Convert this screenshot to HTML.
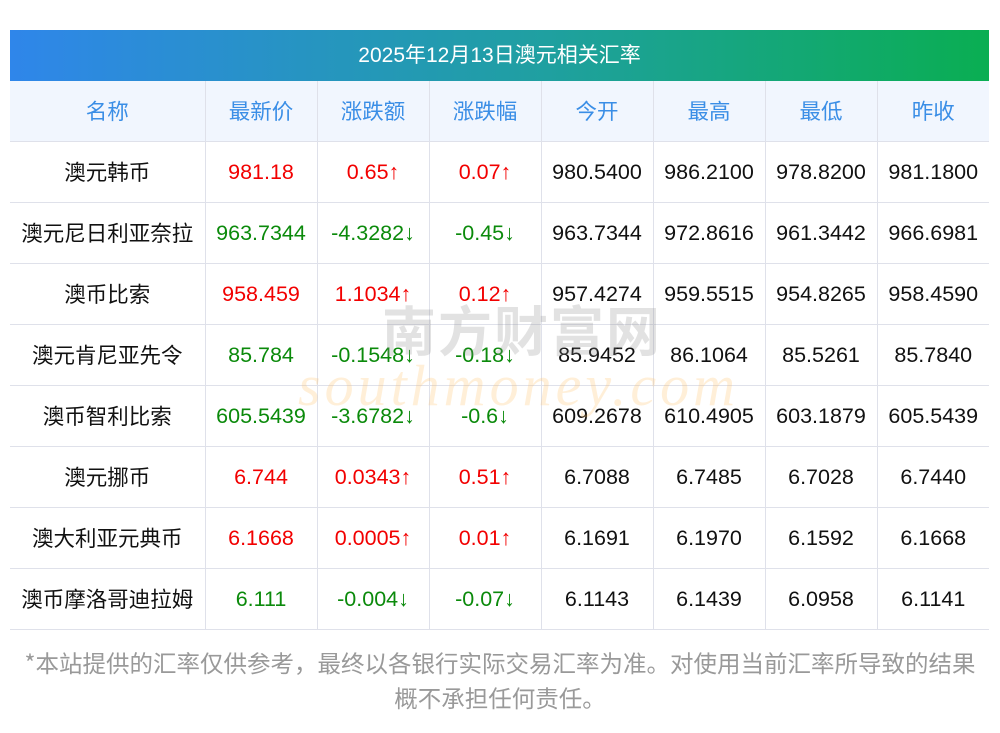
<!DOCTYPE html>
<html><head><meta charset="utf-8"><style>
body{margin:0;width:1000px;height:733px;background:#fff;position:relative;overflow:hidden;font-family:"Liberation Sans","Noto Sans CJK SC",sans-serif;}
.title{position:absolute;left:10px;top:30px;width:979px;height:51px;background:linear-gradient(90deg,#2f86ea,#1fa0a0 55%,#0aae52);color:#fff;font-size:21px;line-height:51px;text-align:center;}
table{position:absolute;left:10px;top:81px;border-collapse:collapse;table-layout:fixed;width:979px;}
td{height:60px;border-bottom:1px solid #dfe1ea;border-left:1px solid #dfe1ea;text-align:center;font-size:21.5px;color:#111;padding:0;white-space:nowrap;line-height:24px;}
td:first-child{border-left:none;font-family:"Noto Sans CJK SC",sans-serif;}
tr.h td{background:#f1f6fe;color:#3a8ee6;font-family:"Noto Sans CJK SC",sans-serif;}
.r{color:#f20000}.g{color:#0b8a0b}
.wm1{position:absolute;left:382px;top:288px;font-size:54px;color:rgba(140,140,140,0.25);letter-spacing:2px;font-family:"Noto Sans CJK SC",sans-serif;font-weight:bold;}
.wm2{position:absolute;left:298px;top:352px;font-size:58px;color:rgba(255,190,100,0.25);font-style:italic;font-family:"Liberation Serif",serif;letter-spacing:4px;}
.foot{position:absolute;left:0;top:645px;width:1000px;text-align:center;color:#999;font-size:23.5px;line-height:35px;font-family:"Noto Sans CJK SC",sans-serif;white-space:nowrap;}
</style></head><body>
<div class="title">2025年12月13日澳元相关汇率</div>
<table>
<colgroup><col style="width:195px"><col style="width:112px"><col style="width:112px"><col style="width:112px"><col style="width:112px"><col style="width:112px"><col style="width:112px"><col style="width:112px"></colgroup>
<tr class="h"><td>名称</td><td>最新价</td><td>涨跌额</td><td>涨跌幅</td><td>今开</td><td>最高</td><td>最低</td><td>昨收</td></tr>
<tr><td>澳元韩币</td><td class="r">981.18</td><td class="r">0.65↑</td><td class="r">0.07↑</td><td>980.5400</td><td>986.2100</td><td>978.8200</td><td>981.1800</td></tr>
<tr><td>澳元尼日利亚奈拉</td><td class="g">963.7344</td><td class="g">-4.3282↓</td><td class="g">-0.45↓</td><td>963.7344</td><td>972.8616</td><td>961.3442</td><td>966.6981</td></tr>
<tr><td>澳币比索</td><td class="r">958.459</td><td class="r">1.1034↑</td><td class="r">0.12↑</td><td>957.4274</td><td>959.5515</td><td>954.8265</td><td>958.4590</td></tr>
<tr><td>澳元肯尼亚先令</td><td class="g">85.784</td><td class="g">-0.1548↓</td><td class="g">-0.18↓</td><td>85.9452</td><td>86.1064</td><td>85.5261</td><td>85.7840</td></tr>
<tr><td>澳币智利比索</td><td class="g">605.5439</td><td class="g">-3.6782↓</td><td class="g">-0.6↓</td><td>609.2678</td><td>610.4905</td><td>603.1879</td><td>605.5439</td></tr>
<tr><td>澳元挪币</td><td class="r">6.744</td><td class="r">0.0343↑</td><td class="r">0.51↑</td><td>6.7088</td><td>6.7485</td><td>6.7028</td><td>6.7440</td></tr>
<tr><td>澳大利亚元典币</td><td class="r">6.1668</td><td class="r">0.0005↑</td><td class="r">0.01↑</td><td>6.1691</td><td>6.1970</td><td>6.1592</td><td>6.1668</td></tr>
<tr><td>澳币摩洛哥迪拉姆</td><td class="g">6.111</td><td class="g">-0.004↓</td><td class="g">-0.07↓</td><td>6.1143</td><td>6.1439</td><td>6.0958</td><td>6.1141</td></tr>
</table>
<div class="wm1">南方财富网</div>
<div class="wm2">southmoney.com</div>
<div class="foot">*本站提供的汇率仅供参考，最终以各银行实际交易汇率为准。对使用当前汇率所导致的结果<br>概不承担任何责任。</div>
</body></html>
